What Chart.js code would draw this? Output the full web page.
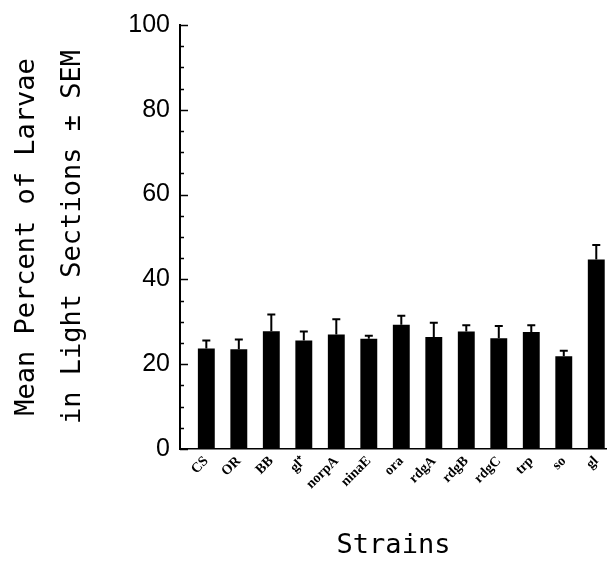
<!DOCTYPE html>
<html>
<head>
<meta charset="utf-8">
<script src="https://cdn.jsdelivr.net/npm/chart.js@4/dist/chart.umd.min.js"></script>
<style>
  html, body { margin: 0; padding: 0; background: #fff; overflow: hidden; }
  #wrap { width: 607px; height: 562px; position: relative; }
</style>
</head>
<body>
<div id="wrap"><canvas id="myChart"></canvas></div>
<script>
const strains = ['CS', 'OR', 'BB', 'gl\u207A', 'norpA', 'ninaE', 'ora', 'rdgA', 'rdgB', 'rdgC', 'trp', 'so', 'gl']
const means = [23.7, 23.5, 27.8, 25.6, 27.0, 26.0, 29.3, 26.4, 27.7, 26.1, 27.6, 21.9, 44.7]
const sem = [1.9, 2.3, 3.9, 2.1, 3.6, 0.7, 2.1, 3.4, 1.5, 2.9, 1.6, 1.3, 3.4]
const yTicks = [0, 20, 40, 60, 80, 100]

// error bars (upper half only, like the original figure)
const errorBars = {
  id: 'errorBars',
  afterDatasetsDraw(chart) {
    const ctx = chart.ctx
    const y = chart.scales.y
    const meta = chart.getDatasetMeta(0)
    ctx.save()
    ctx.strokeStyle = '#000'
    ctx.lineWidth = 2
    meta.data.forEach((bar, i) => {
      const top = y.getPixelForValue(means[i] + sem[i])
      ctx.beginPath()
      ctx.moveTo(bar.x, bar.y)
      ctx.lineTo(bar.x, top)
      ctx.moveTo(bar.x - 4, top)
      ctx.lineTo(bar.x + 4, top)
      ctx.stroke()
    })
    ctx.restore()
  }
}

// inward tick marks on the y axis, minor every 5
const inTicks = {
  id: 'inTicks',
  afterDraw(chart) {
    const ctx = chart.ctx
    const y = chart.scales.y
    ctx.save()
    ctx.strokeStyle = '#000'
    ctx.lineWidth = 1.5
    for (let v = 0; v <= 100; v += 5) {
      const py = Math.round(y.getPixelForValue(v)) + 0.5
      const len = yTicks.includes(v) ? 8 : 4
      ctx.beginPath()
      ctx.moveTo(y.right, py)
      ctx.lineTo(y.right + len, py)
      ctx.stroke()
    }
    ctx.restore()
  }
}

const ctx = document.getElementById('myChart').getContext('2d')
const myChart = new Chart(ctx, {
  type: 'bar',
  data: {
    datasets: [{
      data: strains.map((s, i) => ({ x: i, y: means[i] })),
      backgroundColor: '#000',
      borderWidth: 0,
      barPercentage: 1,
      categoryPercentage: 0.52
    }]
  },
  plugins: [errorBars, inTicks],
  options: {
    responsive: true,
    maintainAspectRatio: false,
    animation: false,
    layout: { padding: { top: 20, right: 0, bottom: 0, left: 4 } },
    plugins: {
      legend: { display: false },
      tooltip: { enabled: false }
    },
    scales: {
      x: {
        type: 'linear',
        min: -0.81,
        max: 12.33,
        offset: false,
        grid: { display: false, drawTicks: false },
        border: { color: '#000', width: 1.5 },
        ticks: {
          stepSize: 1,
          includeBounds: false,
          autoSkip: false,
          minRotation: 45,
          maxRotation: 45,
          padding: 4,
          color: '#000',
          font: { family: 'Liberation Serif', size: 14, weight: 'bold' },
          callback: v => Number.isInteger(v) ? strains[v] : ''
        },
        title: {
          display: true,
          text: 'Strains',
          color: '#000',
          font: { family: 'DejaVu Sans Mono', size: 27 },
          padding: { top: 0, bottom: 0 }
        },
        afterFit: s => { s.height = 113; s.paddingRight = 0 }
      },
      y: {
        min: 0,
        max: 100,
        grid: { display: false, drawTicks: false },
        border: { color: '#000', width: 2 },
        ticks: {
          stepSize: 20,
          padding: 10,
          color: '#000',
          font: { family: 'Liberation Sans', size: 25 }
        },
        title: {
          display: true,
          text: ['Mean Percent of Larvae', 'in Light Sections \u00B1 SEM'],
          color: '#000',
          font: { family: 'DejaVu Sans Mono', size: 27, lineHeight: '46px' },
          padding: { top: 0, bottom: 34 }
        },
        afterFit: s => { s.width = 176 }
      }
    }
  }
})
</script>
</body>
</html>
